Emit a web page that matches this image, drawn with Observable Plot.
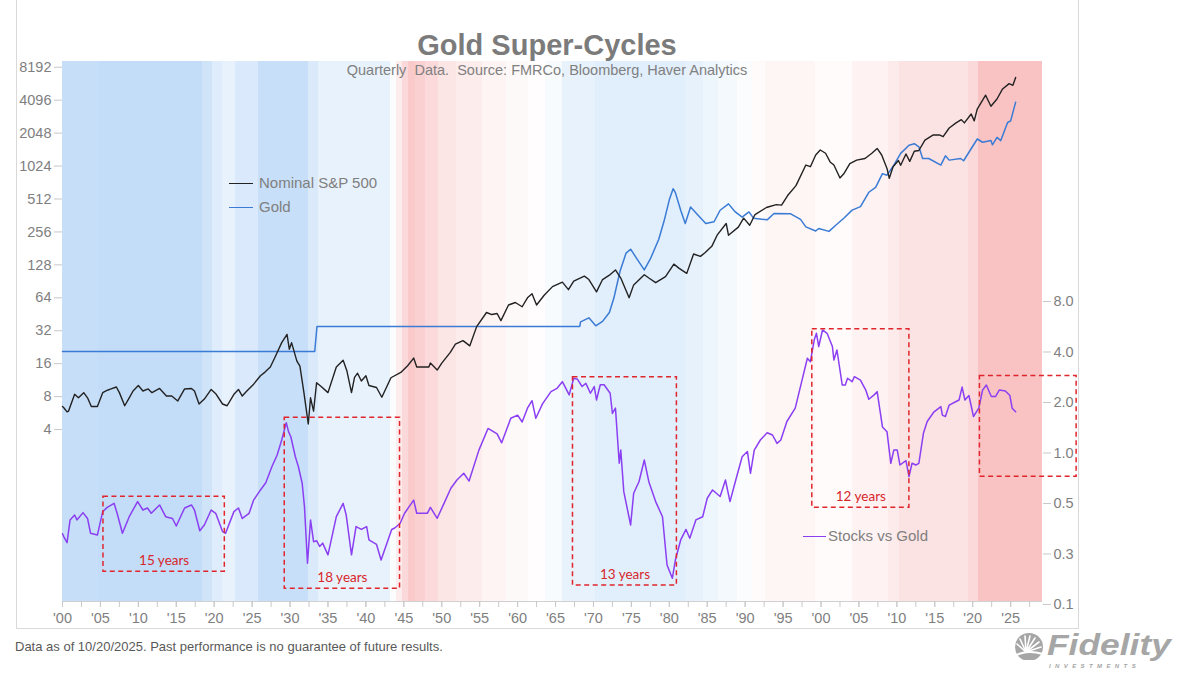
<!DOCTYPE html>
<html>
<head>
<meta charset="utf-8">
<script src="https://cdn.jsdelivr.net/npm/d3@7"></script>
<script src="https://cdn.jsdelivr.net/npm/@observablehq/plot@0.6"></script>
<style>
  body { margin: 0; background: #fff; font-family: "Liberation Sans", Arial, sans-serif; }
  #wrap { position: relative; width: 1200px; height: 675px; overflow: hidden; background: #fff; }
  #chart { position: absolute; left: 0; top: 0; }
  .abs { position: absolute; white-space: pre; }
  .frame { position: absolute; background: #d9d9d9; }
  #title { left: 547px; top: 30px; transform: translateX(-50%); font-size: 29px; line-height: 30px; font-weight: bold; color: #7b7b7b; }
  #subtitle { left: 547px; top: 62px; transform: translateX(-50%); font-size: 14.5px; line-height: 16px; color: #808080; }
  .legtxt { font-size: 15px; line-height: 18px; color: #7f7f7f; }
  .legline { position: absolute; height: 0; }
  #footer { left: 15px; top: 639px; font-size: 13px; line-height: 16px; color: #595959; }
  #fid { left: 1047px; top: 633px; font-size: 29px; line-height: 24px; font-weight: bold; font-style: italic; color: #a6a6a6; transform: scaleX(1.22); transform-origin: left center; }
  #inv { left: 1049px; top: 663px; font-size: 6px; line-height: 6px; font-weight: bold; font-style: italic; color: #a6a6a6; letter-spacing: 4.4px; }
</style>
</head>
<body>
<div id="wrap">
  <div class="frame" style="left:16px;top:0;width:1px;height:628px"></div>
  <div class="frame" style="left:1078px;top:0;width:1px;height:628px"></div>
  <div class="frame" style="left:16px;top:628px;width:1063px;height:1px"></div>
  <div id="chart"></div>
  <div class="abs" id="title">Gold Super-Cycles</div>
  <div class="abs" id="subtitle">Quarterly  Data.  Source: FMRCo, Bloomberg, Haver Analytics</div>
  <div class="legline" style="left:229px;top:183px;width:24px;border-top:1.6px solid #222"></div>
  <div class="abs legtxt" style="left:259px;top:174px">Nominal S&amp;P 500</div>
  <div class="legline" style="left:229px;top:207px;width:24px;border-top:1.6px solid #3a7bd5"></div>
  <div class="abs legtxt" style="left:259px;top:198px">Gold</div>
  <div class="legline" style="left:803px;top:536px;width:23px;border-top:1.6px solid #8b3ff2"></div>
  <div class="abs legtxt" style="left:828px;top:527px">Stocks vs Gold</div>
  <div class="abs" id="footer">Data as of 10/20/2025. Past performance is no guarantee of future results.</div>
  <svg class="abs" style="left:1012px;top:632px" width="36" height="28" viewBox="0 0 36 28">
    <circle cx="17" cy="15" r="14" fill="#a6a6a6"/>
    <g stroke="#fff" stroke-width="1.6" stroke-linecap="round">
      <line x1="14" y1="20" x2="5" y2="12"/>
      <line x1="14" y1="20" x2="8" y2="7"/>
      <line x1="14" y1="20" x2="13" y2="4"/>
      <line x1="14" y1="20" x2="18" y2="4"/>
      <line x1="14" y1="20" x2="23" y2="6"/>
      <line x1="14" y1="20" x2="27" y2="10"/>
      <line x1="14" y1="20" x2="29" y2="15"/>
    </g>
    <path d="M3 24 Q14 17 31 22" stroke="#fff" stroke-width="2" fill="none"/>
  </svg>
  <div class="abs" id="fid">Fidelity</div>
  <div class="abs" id="inv">INVESTMENTS</div>
</div>
<script>
// ---------- data ----------
const xDomain = [1900, 2029.2];
const leftDomain = [0.1073, 9244];     // S&P 500 / Gold axis (log2)
const rightDomain = [0.1302, 215.6];   // Stocks vs Gold axis (log2)

const leftTicks = [4, 8, 16, 32, 64, 128, 256, 512, 1024, 2048, 4096, 8192];
const rightTicks = [0.125, 0.25, 0.5, 1, 2, 4, 8];
const rightTickLabels = ["0.1", "0.3", "0.5", "1.0", "2.0", "4.0", "8.0"];
const xTicks = [1900, 1905, 1910, 1915, 1920, 1925, 1930, 1935, 1940, 1945, 1950, 1955, 1960,
  1965, 1970, 1975, 1980, 1985, 1990, 1995, 2000, 2005, 2010, 2015, 2020, 2025];
const xMinorTicks = [1902.5, 1907.5, 1912.5, 1917.5, 1922.5, 1927.5, 1932.5, 1937.5, 1942.5, 1947.5,
  1952.5, 1957.5, 1962.5, 1967.5, 1972.5, 1977.5, 1982.5, 1987.5, 1992.5, 1997.5, 2002.5, 2007.5,
  2012.5, 2017.5, 2022.5, 2027.5];

// background regime bands: [start, end, tone] tone -1 = blue ... +1 = red
const bands = [
  [1900, 1904.75, -0.93], [1904.75, 1918.5, -1], [1918.5, 1919.8, -0.8], [1919.8, 1921.1, -0.55],
  [1921.1, 1922.8, -0.38], [1922.8, 1925.8, -0.62], [1925.8, 1932.4, -0.92], [1932.4, 1933.75, -0.6],
  [1933.75, 1943.3, -0.38], [1943.3, 1944.0, -0.08], [1944.0, 1944.8, 0.3], [1944.8, 1945.6, 0.6],
  [1945.6, 1946.6, 0.85], [1946.6, 1947.9, 0.75], [1947.9, 1949.6, 0.58], [1949.6, 1952.0, 0.42],
  [1952.0, 1955.4, 0.3], [1955.4, 1958.5, 0.18], [1958.5, 1961.4, 0.1], [1961.4, 1963.7, 0.03],
  [1963.7, 1965.9, -0.12], [1965.9, 1970.3, -0.38], [1970.3, 1982.1, -0.5], [1982.1, 1984.5, -0.4],
  [1984.5, 1986.5, -0.3], [1986.5, 1989.0, -0.18], [1989.0, 1991.0, -0.08], [1991.0, 1992.7, 0.06],
  [1992.7, 1999.3, 0.16], [1999.3, 2004.2, 0.06], [2004.2, 2008.9, 0.2], [2008.9, 2010.3, 0.32],
  [2010.3, 2019.5, 0.45], [2019.5, 2020.8, 0.6], [2020.8, 2029.2, 0.95]
];

const sp500 = [
  [1900.0, 6.5], [1900.2, 6.3], [1900.6, 5.8], [1900.8, 5.9], [1901.6, 8.4], [1902.1, 7.8], [1902.8, 8.7],
  [1903.3, 7.8], [1903.8, 6.5], [1904.6, 6.5], [1905.3, 8.7], [1906.0, 9.2], [1906.4, 9.4], [1907.1, 9.8],
  [1907.5, 8.7], [1908.2, 6.6], [1908.8, 7.8], [1909.3, 9.0], [1910.0, 10.1], [1910.6, 9.0], [1911.3, 9.4],
  [1911.8, 8.7], [1912.8, 9.5], [1913.7, 8.1], [1914.4, 8.1], [1915.2, 7.3], [1916.1, 9.4], [1917.0, 9.5],
  [1917.4, 9.0], [1918.0, 6.85], [1918.7, 7.6], [1919.6, 9.3], [1920.2, 8.5], [1921.1, 6.85], [1921.7, 6.6],
  [1922.6, 8.4], [1923.2, 9.3], [1923.7, 8.1], [1924.3, 9.0], [1925.2, 10.4], [1926.1, 12.4], [1926.7, 13.4],
  [1927.4, 14.9], [1928.0, 18.2], [1928.9, 24.9], [1929.6, 29.6], [1929.9, 21.7], [1930.2, 24.9], [1930.9, 16.9],
  [1931.3, 15.2], [1931.8, 9.0], [1932.4, 4.5], [1932.7, 7.8], [1933.1, 5.9], [1933.5, 10.7], [1934.1, 9.9],
  [1935.0, 8.7], [1936.1, 14.9], [1937.0, 17.2], [1937.5, 13.7], [1938.1, 8.7], [1938.5, 12.0], [1938.9, 13.1],
  [1939.4, 11.1], [1940.0, 12.4], [1940.4, 10.1], [1941.4, 9.7], [1942.1, 7.9], [1943.3, 11.9], [1944.6, 13.3],
  [1945.5, 15.3], [1946.3, 18.0], [1946.7, 14.9], [1948.3, 14.9], [1948.5, 16.2], [1949.4, 14.0], [1950.0, 16.2],
  [1951.1, 20.2], [1951.8, 24.1], [1952.8, 26.0], [1953.7, 23.3], [1954.6, 34.9], [1955.9, 47], [1956.6, 45],
  [1957.3, 46], [1957.8, 39.6], [1958.8, 55], [1959.7, 58], [1960.6, 53], [1961.3, 64], [1961.9, 69.6],
  [1962.5, 55], [1963.5, 67.5], [1964.6, 81], [1965.9, 89], [1966.7, 76], [1967.4, 91], [1968.8, 101],
  [1969.4, 94], [1970.4, 72.5], [1971.2, 94], [1972.1, 103], [1972.9, 115], [1973.6, 97], [1974.7, 64],
  [1975.3, 84], [1976.7, 104], [1977.3, 97], [1978.2, 88], [1979.5, 100], [1980.6, 130], [1981.3, 119],
  [1982.3, 107], [1983.2, 161], [1984.1, 153], [1984.7, 165], [1985.6, 189], [1986.3, 239], [1987.5, 306],
  [1987.8, 239], [1989.1, 283], [1989.8, 342], [1990.6, 295], [1991.3, 369], [1992.8, 428], [1994.1, 455],
  [1994.8, 450], [1995.6, 551], [1996.7, 678], [1998.0, 1046], [1998.6, 1010], [1999.3, 1292], [1999.9, 1436],
  [2000.6, 1340], [2001.2, 1117], [2001.7, 1046], [2002.5, 797], [2003.0, 870], [2003.8, 1080], [2004.7, 1160],
  [2005.8, 1200], [2006.7, 1340], [2007.4, 1485], [2008.0, 1292], [2008.7, 975], [2009.0, 791], [2009.5, 1010],
  [2010.2, 1150], [2010.5, 1040], [2011.2, 1320], [2011.7, 1130], [2012.3, 1400], [2012.9, 1420], [2013.7, 1770],
  [2014.8, 1970], [2015.6, 1970], [2016.1, 1900], [2016.9, 2280], [2017.8, 2540], [2018.5, 2720], [2018.9, 2540],
  [2019.8, 3060], [2020.2, 2650], [2020.6, 3400], [2021.7, 4550], [2022.4, 3600], [2023.2, 4200], [2023.9, 5150],
  [2024.8, 5800], [2025.3, 5600], [2025.66, 6600]
];

const gold = [
  [1900.0, 20.67], [1933.25, 20.67], [1933.55, 35], [1968.2, 35], [1968.3, 38.6], [1969.4, 42], [1970.3, 35.5],
  [1971.2, 39], [1972.1, 47], [1972.7, 64], [1973.5, 112], [1974.3, 164], [1974.9, 178], [1975.6, 150],
  [1976.7, 115], [1977.5, 145], [1978.6, 218], [1979.3, 320], [1980.0, 503], [1980.5, 636], [1980.8, 585],
  [1981.5, 404], [1982.1, 306], [1982.8, 432], [1983.4, 390], [1984.8, 306], [1985.9, 317], [1986.7, 404],
  [1987.8, 462], [1988.7, 390], [1989.6, 350], [1990.5, 390], [1991.1, 342], [1992.9, 330], [1993.8, 377],
  [1996.0, 375], [1997.3, 333], [1998.0, 285], [1999.3, 261], [1999.7, 275], [2001.05, 259], [2001.9, 293],
  [2003.0, 341], [2004.1, 405], [2005.2, 436], [2006.3, 590], [2007.2, 654], [2008.1, 873], [2008.7, 845],
  [2009.6, 1046], [2010.5, 1338], [2011.6, 1588], [2012.3, 1640], [2012.9, 1535], [2013.4, 1200], [2014.2, 1200],
  [2015.8, 1046], [2016.4, 1270], [2016.9, 1160], [2018.4, 1200], [2018.8, 1145], [2020.6, 1810], [2021.3, 1690],
  [2022.4, 1750], [2022.6, 1600], [2023.2, 1870], [2023.7, 1750], [2024.6, 2560], [2025.0, 2650], [2025.66, 3930]
];

const stocksVsGold = [
  [1900.0, 0.33], [1900.2, 0.315], [1900.6, 0.292], [1901.0, 0.399], [1901.6, 0.427], [1901.9, 0.399], [1902.7, 0.441],
  [1903.3, 0.407], [1903.7, 0.332], [1904.6, 0.324], [1905.3, 0.447], [1905.9, 0.474], [1906.8, 0.501], [1907.2, 0.437],
  [1907.9, 0.332], [1908.8, 0.417], [1909.9, 0.513], [1910.6, 0.457], [1911.2, 0.47], [1911.7, 0.437], [1912.8, 0.49],
  [1913.6, 0.417], [1914.5, 0.407], [1915.0, 0.367], [1916.1, 0.47], [1917.0, 0.49], [1917.4, 0.457], [1918.1, 0.344],
  [1918.7, 0.372], [1919.6, 0.457], [1920.2, 0.437], [1921.1, 0.34], [1921.5, 0.332], [1922.6, 0.447], [1923.2, 0.47],
  [1923.7, 0.407], [1924.6, 0.437], [1925.2, 0.524], [1926.1, 0.602], [1926.8, 0.665], [1927.6, 0.828], [1928.3, 0.973],
  [1928.9, 1.195], [1929.5, 1.516], [1929.8, 1.34], [1930.1, 1.25], [1930.7, 0.95], [1931.1, 0.828], [1931.6, 0.66],
  [1931.9, 0.479], [1932.3, 0.22], [1932.7, 0.399], [1933.1, 0.296], [1933.5, 0.3], [1933.9, 0.277], [1934.3, 0.29],
  [1935.0, 0.247], [1936.1, 0.417], [1937.0, 0.501], [1937.4, 0.427], [1938.1, 0.247], [1938.7, 0.364], [1939.4, 0.35],
  [1940.1, 0.364], [1940.4, 0.303], [1941.4, 0.285], [1942.0, 0.23], [1943.4, 0.35], [1943.8, 0.357], [1944.5, 0.38],
  [1945.1, 0.437], [1945.7, 0.479], [1946.3, 0.524], [1946.7, 0.437], [1948.1, 0.437], [1948.5, 0.474], [1949.4, 0.408],
  [1950.3, 0.501], [1951.2, 0.616], [1952.0, 0.69], [1952.9, 0.757], [1953.6, 0.68], [1954.9, 1.04], [1956.1, 1.40],
  [1957.3, 1.3], [1957.9, 1.15], [1959.1, 1.61], [1960.0, 1.68], [1960.6, 1.53], [1961.3, 1.85], [1961.9, 2.05],
  [1962.4, 1.61], [1963.3, 1.97], [1964.4, 2.32], [1965.2, 2.43], [1965.9, 2.66], [1966.8, 2.22], [1967.4, 2.79],
  [1967.9, 2.75], [1968.5, 2.49], [1969.0, 2.6], [1969.6, 2.27], [1970.1, 2.49], [1970.4, 2.07], [1970.9, 2.55],
  [1971.4, 2.55], [1972.2, 2.27], [1972.5, 1.72], [1972.9, 1.85], [1973.4, 0.868], [1973.6, 1.04], [1974.0, 0.588],
  [1974.9, 0.372], [1975.3, 0.575], [1976.0, 0.674], [1976.7, 0.908], [1977.3, 0.674], [1978.2, 0.513], [1979.1, 0.417],
  [1979.7, 0.215], [1980.4, 0.179], [1980.8, 0.23], [1981.5, 0.303], [1982.2, 0.35], [1982.7, 0.31], [1983.5, 0.399],
  [1984.4, 0.417], [1985.0, 0.537], [1985.7, 0.602], [1986.7, 0.55], [1987.4, 0.69], [1988.0, 0.513], [1988.7, 0.674],
  [1989.6, 0.95], [1990.3, 1.02], [1990.7, 0.757], [1991.2, 1.04], [1992.0, 1.195], [1992.9, 1.32], [1993.6, 1.28],
  [1994.2, 1.14], [1994.7, 1.195], [1995.5, 1.54], [1996.6, 1.85], [1997.5, 2.72], [1998.2, 3.67], [1998.6, 3.5],
  [1999.1, 4.71], [1999.4, 5.17], [1999.7, 4.31], [2000.2, 5.41], [2000.8, 5.17], [2001.5, 4.31], [2001.7, 3.58],
  [2002.1, 4.11], [2002.8, 2.54], [2003.2, 2.54], [2003.5, 2.79], [2004.1, 2.66], [2004.4, 2.85], [2005.2, 2.72],
  [2005.9, 2.37], [2006.3, 2.09], [2007.0, 2.22], [2007.4, 2.32], [2008.1, 1.43], [2008.7, 1.34], [2009.2, 0.868],
  [2009.6, 1.04], [2010.05, 1.04], [2010.4, 0.848], [2011.2, 0.9], [2011.6, 0.722], [2012.0, 0.868], [2012.5, 0.848],
  [2012.9, 0.868], [2013.5, 1.31], [2014.0, 1.54], [2014.9, 1.76], [2015.8, 1.89], [2016.0, 1.68], [2016.4, 1.65],
  [2016.9, 1.93], [2017.75, 2.02], [2018.2, 2.07], [2018.6, 2.47], [2018.97, 2.07], [2019.5, 2.2], [2020.1, 1.65],
  [2020.8, 1.85], [2021.3, 2.37], [2021.8, 2.54], [2022.45, 2.17], [2023.0, 2.17], [2023.5, 2.37], [2024.3, 2.34],
  [2024.9, 2.2], [2025.2, 1.85], [2025.66, 1.76]
];

// super-cycle annotation boxes (years on x, Stocks vs Gold ratio on y)
const cycleBoxes = [
  {x1: 1905.4, x2: 1921.4, r1: 0.196, r2: 0.549, label: "15 years"},
  {x1: 1929.3, x2: 1944.5, r1: 0.155, r2: 1.62, label: "18 years"},
  {x1: 1967.3, x2: 1981.0, r1: 0.162, r2: 2.83, label: "13 years"},
  {x1: 1998.85, x2: 2011.65, r1: 0.472, r2: 5.46, label: "12 years"},
  {x1: 2020.95, x2: 2033.7, r1: 0.722, r2: 2.88, label: ""}
];

// ---------- helpers: both y axes are log2, drawn on one linear scale of log2 values ----------
const L2 = Math.log2;
const leftLog = leftDomain.map(L2);
const rightToLeft = d3.scaleLinear().domain(rightDomain.map(L2)).range(leftLog);
const yL = v => L2(v);                 // left-axis value -> scale value
const yR = r => rightToLeft(L2(r));    // right-axis value -> scale value
const blueMix = d3.interpolateRgb("#ffffff", "#c3dcf8");
const redMix = d3.interpolateRgb("#ffffff", "#f9c0c1");
const toneColor = t => t < 0 ? blueMix(-t) : redMix(t);
const leftTickPos = leftTicks.map(yL);
const leftLabelMap = new Map(leftTickPos.map((v, i) => [v, String(leftTicks[i])]));
const rightTickPos = rightTicks.map(yR);
const rightLabelMap = new Map(rightTickPos.map((v, i) => [v, rightTickLabels[i]]));
const yearFmt = d => "'" + String(Math.round(d) % 100).padStart(2, "0");
const allXTicks = xTicks.concat(xMinorTicks);

const chart = Plot.plot({
  width: 1200,
  height: 636,
  marginLeft: 62,
  marginRight: 158,
  marginTop: 61,
  marginBottom: 35,
  x: {domain: xDomain, label: null},
  y: {domain: leftLog, label: null},
  color: {type: "identity"},
  style: {fontFamily: '"Liberation Sans", Arial, sans-serif', fontSize: "14.5px", color: "#7f7f7f", background: "transparent", overflow: "visible"},
  marks: [
    Plot.rect(bands, {x1: d => d[0], x2: d => d[1], y1: leftLog[0], y2: leftLog[1], fill: d => toneColor(d[2]), shapeRendering: "crispEdges"}),
    Plot.ruleY([leftLog[0]], {stroke: "#d0d0d0", strokeWidth: 1}),
    Plot.axisX(allXTicks, {tickSize: 6, tickFormat: () => " ", stroke: "#c8c8c8"}),
    Plot.axisX(xTicks, {tickSize: 6, tickPadding: 5, tickFormat: yearFmt, stroke: "#c8c8c8", fill: "#7f7f7f"}),
    Plot.axisY(leftTickPos, {anchor: "left", tickSize: 8, tickPadding: 3, tickFormat: d => leftLabelMap.get(d), stroke: "#c8c8c8", fill: "#7f7f7f"}),
    Plot.axisY(rightTickPos, {anchor: "right", tickSize: 8, tickPadding: 3, tickFormat: d => rightLabelMap.get(d), stroke: "#c8c8c8", fill: "#7f7f7f"}),
    Plot.line(gold, {x: d => d[0], y: d => yL(d[1]), stroke: "#3a7bd5", strokeWidth: 1.5}),
    Plot.line(sp500, {x: d => d[0], y: d => yL(d[1]), stroke: "#222222", strokeWidth: 1.4}),
    Plot.line(stocksVsGold, {x: d => d[0], y: d => yR(d[1]), stroke: "#8b3ff2", strokeWidth: 1.5}),
    Plot.rect(cycleBoxes, {x1: "x1", x2: "x2", y1: d => yR(d.r1), y2: d => yR(d.r2), fill: "none", stroke: "#e0262c", strokeWidth: 1.5, strokeDasharray: "5,3.5"}),
    Plot.text(cycleBoxes.filter(d => d.label), {x: d => (d.x1 + d.x2) / 2, y: d => yR(d.r1), text: "label", dy: -11, fill: "#d8262b", fontSize: 13.5, fontFamily: "Lato, 'Open Sans', sans-serif"})
  ]
});
document.getElementById("chart").appendChild(chart);
</script>
</body>
</html>
